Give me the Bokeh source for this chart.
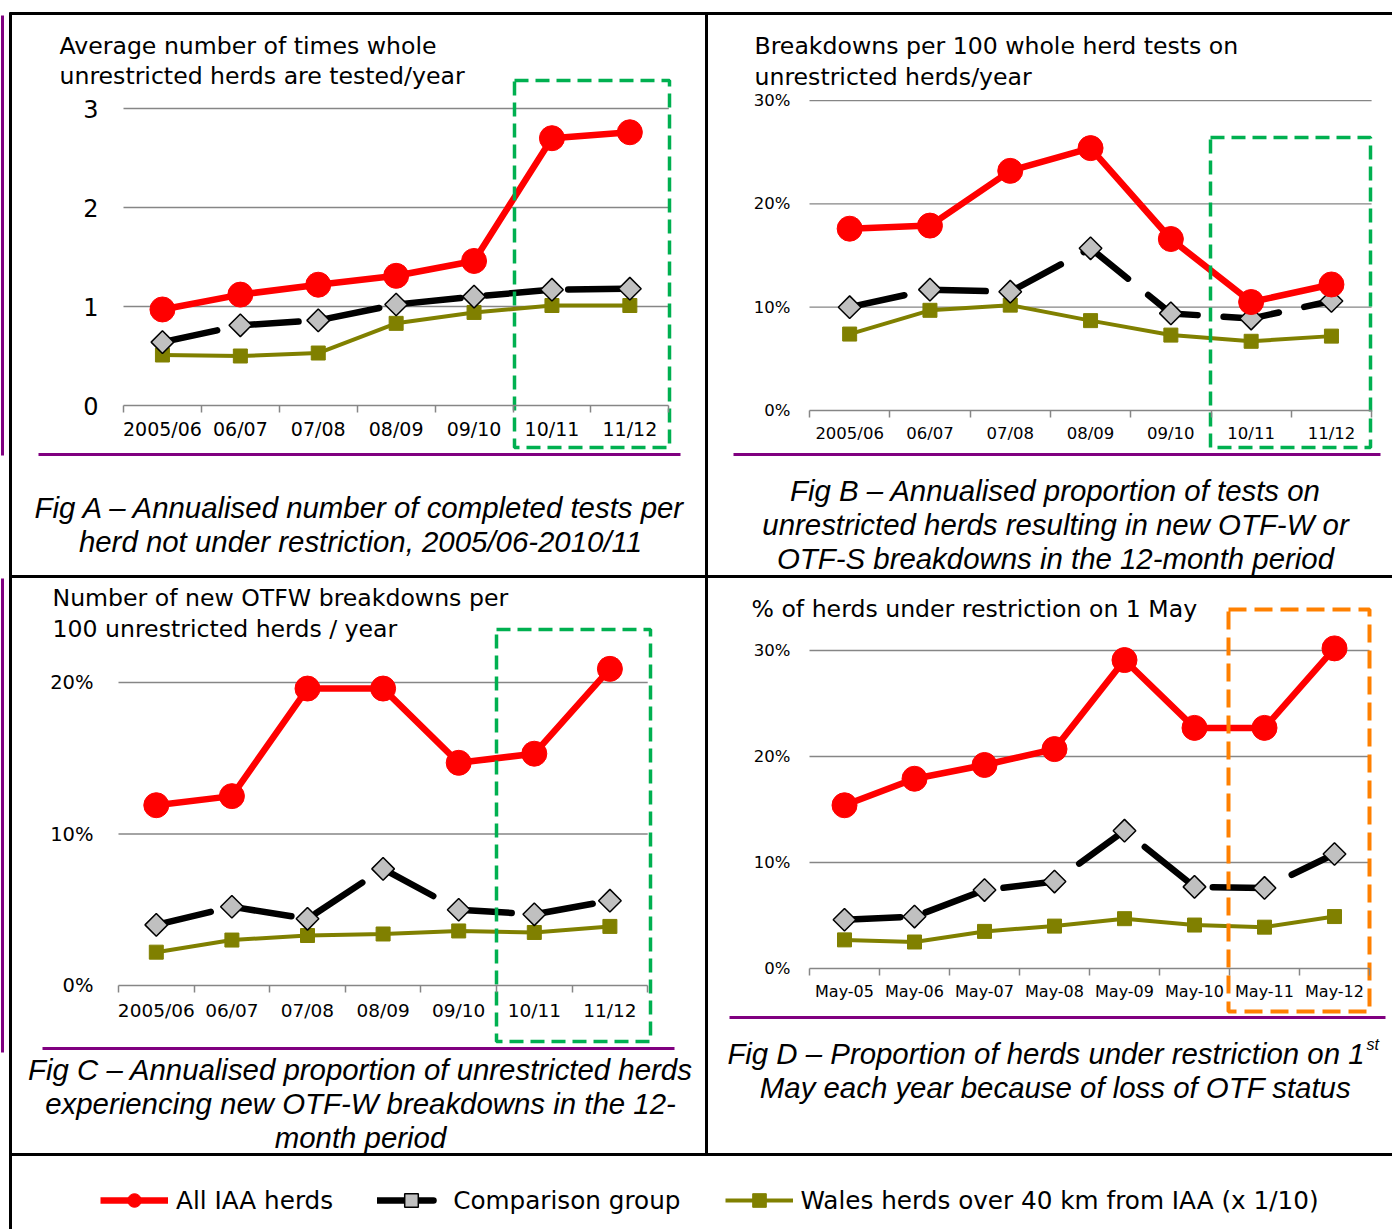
import numpy as np
from bokeh.plotting import figure
from bokeh.models import (Range1d, LinearAxis, FixedTicker, ColumnDataSource,
                          Legend, LegendItem, PrintfTickFormatter, BasicTickFormatter)
from bokeh.core.properties import value
from bokeh.embed import file_html
from bokeh.resources import INLINE

W, H = 1392, 1229

# ---------------------------------------------------------------- data
years = ["2005/06", "06/07", "07/08", "08/09", "09/10", "10/11", "11/12"]
mays = ["May-05", "May-06", "May-07", "May-08", "May-09", "May-10", "May-11", "May-12"]

series_names = ["All IAA herds", "Comparison group",
                "Wales herds over 40 km from IAA (x 1/10)"]

# Fig A: average number of whole-herd tests per unrestricted herd per year
a_iaa = [0.97, 1.12, 1.22, 1.31, 1.46, 2.70, 2.76]
a_comparison = [0.64, 0.81, 0.86, 1.02, 1.10, 1.17, 1.18]
a_wales = [0.51, 0.50, 0.53, 0.83, 0.94, 1.01, 1.01]
a_yticks = [0, 1, 2, 3]

# Fig B: breakdowns per 100 whole-herd tests (%)
b_iaa = [17.6, 17.9, 23.2, 25.4, 16.6, 10.5, 12.2]
b_comparison = [10.0, 11.7, 11.5, 15.7, 9.4, 8.9, 10.6]
b_wales = [7.4, 9.7, 10.2, 8.7, 7.3, 6.7, 7.2]
b_yticks = [0, 10, 20, 30]

# Fig C: new OTF-W breakdowns per 100 unrestricted herds (%)
c_iaa = [11.9, 12.5, 19.6, 19.6, 14.7, 15.3, 20.9]
c_comparison = [4.0, 5.2, 4.4, 7.7, 5.0, 4.7, 5.6]
c_wales = [2.2, 3.0, 3.3, 3.4, 3.6, 3.5, 3.9]
c_yticks = [0, 10, 20]

# Fig D: herds under restriction on 1 May (%)
d_iaa = [15.4, 17.9, 19.2, 20.7, 29.1, 22.7, 22.7, 30.2]
d_comparison = [4.6, 4.9, 7.4, 8.2, 13.0, 7.7, 7.6, 10.8]
d_wales = [2.7, 2.5, 3.5, 4.0, 4.7, 4.1, 3.9, 4.9]
d_yticks = [0, 10, 20, 30]

# ---------------------------------------------------------------- style
RED = "#FF0000"
OLIVE = "#808000"
DIAMOND_FILL = "#C0C0C0"
GRID = "#868686"
PURPLE = "#800080"
GREEN = "#00B050"
ORANGE = "#FF8000"
CHART_FONT = "DejaVu Sans"
CAPTION_FONT = "Liberation Sans"
TITLE_SIZE = 23.6
CAPTION_SIZE = 29.4

# One page-sized canvas; the main ranges are page pixels (y downwards),
# each panel gets its own pair of extra ranges.
p = figure(width=W, height=H, x_range=Range1d(0, W), y_range=Range1d(H, 0),
           output_backend="svg", toolbar_location=None, min_border=0,
           x_axis_type=None, y_axis_type=None)
p.outline_line_color = None
p.background_fill_color = "white"
p.border_fill_color = "white"


def page_text(xs, ys, texts, size, font=CHART_FONT, style="normal",
              align="left", baseline="middle"):
    src = ColumnDataSource(dict(x=xs, y=ys, t=texts))
    p.text(x="x", y="y", text="t", source=src, text_font=value(font),
           text_font_size=value(f"{size}px"), text_font_style=style,
           text_align=align, text_baseline=baseline, text_color="black")


def add_panel(key, cats, iaa, comp, wales, left, cell, base, unit_px, yticks,
              fmt, ylab_size, ylab_gap, xlab_size, xlab_gap):
    n = len(cats)
    xr, yr = "x" + key, "y" + key
    p.extra_x_ranges = {**p.extra_x_ranges,
                        xr: Range1d(-left / cell, (W - left) / cell)}
    p.extra_y_ranges = {**p.extra_y_ranges,
                        yr: Range1d((base - H) / unit_px, base / unit_px)}
    on = dict(x_range_name=xr, y_range_name=yr)
    xs = [i + 0.5 for i in range(n)]

    # horizontal gridlines
    grid = [t for t in yticks if t > 0]
    p.segment(x0=[0] * len(grid), x1=[n] * len(grid), y0=grid, y1=grid,
              line_color=GRID, line_width=1.3, **on)

    # category axis: boundary ticks + centred labels
    tick_axis = LinearAxis(**on, fixed_location=0, bounds=(0, n),
                           ticker=FixedTicker(ticks=list(range(n + 1))),
                           axis_line_color=GRID, axis_line_width=1.5,
                           major_tick_line_color=GRID, major_tick_line_width=1.5,
                           major_tick_in=0, major_tick_out=7,
                           minor_tick_line_color=None,
                           major_label_text_color=None)
    label_axis = LinearAxis(**on, fixed_location=0, bounds=(0, n),
                            ticker=FixedTicker(ticks=xs),
                            major_label_overrides={x: c for x, c in zip(xs, cats)},
                            axis_line_color=None, major_tick_line_color=None,
                            major_tick_in=0, major_tick_out=0,
                            minor_tick_line_color=None, minor_tick_out=0,
                            major_label_standoff=xlab_gap,
                            major_label_text_font=CHART_FONT,
                            major_label_text_font_size=f"{xlab_size}px",
                            major_label_text_color="black")
    y_axis = LinearAxis(**on, fixed_location=0,
                        bounds=(min(yticks), max(yticks)),
                        ticker=FixedTicker(ticks=yticks), formatter=fmt,
                        axis_line_color=None, major_tick_line_color=None,
                        major_tick_in=0, major_tick_out=0,
                        minor_tick_line_color=None, minor_tick_out=0,
                        major_label_standoff=ylab_gap,
                        major_label_text_font=CHART_FONT,
                        major_label_text_font_size=f"{ylab_size}px",
                        major_label_text_color="black")
    p.add_layout(tick_axis, "below")
    p.add_layout(label_axis, "below")
    p.add_layout(y_axis, "left")

    wl = p.line(xs, wales, line_color=OLIVE, line_width=4, **on)
    wm = p.scatter(xs, wales, marker="square", size=14, fill_color=OLIVE,
                   line_color=OLIVE, **on)
    cl = p.line(xs, comp, line_color="black", line_width=6.5,
                line_dash="56 26", line_cap="round", **on)
    cm = p.scatter(xs, comp, marker="square", angle=np.pi / 4, size=16,
                   fill_color=DIAMOND_FILL, line_color="black", line_width=1.5,
                   **on)
    il = p.line(xs, iaa, line_color=RED, line_width=6.5, **on)
    im = p.scatter(xs, iaa, marker="circle", size=25, fill_color=RED,
                   line_color=RED, **on)
    return [[il, im], [cl, cm], [wl, wm]]


pct = PrintfTickFormatter(format="%d%%")

rA = add_panel("A", years, a_iaa, a_comparison, a_wales, left=123, cell=77.9,
               base=405, unit_px=99.0, yticks=a_yticks,
               fmt=BasicTickFormatter(), ylab_size=24, ylab_gap=25,
               xlab_size=19, xlab_gap=12)
add_panel("B", years, b_iaa, b_comparison, b_wales, left=809, cell=80.3,
          base=410, unit_px=10.33, yticks=b_yticks, fmt=pct,
          ylab_size=16.5, ylab_gap=19, xlab_size=16.5, xlab_gap=13)
add_panel("C", years, c_iaa, c_comparison, c_wales, left=118, cell=75.6,
          base=985, unit_px=15.15, yticks=c_yticks, fmt=pct,
          ylab_size=19.5, ylab_gap=25, xlab_size=18.5, xlab_gap=14)
add_panel("D", mays, d_iaa, d_comparison, d_wales, left=809, cell=70.0,
          base=968, unit_px=10.6, yticks=d_yticks, fmt=pct,
          ylab_size=16.5, ylab_gap=19, xlab_size=16, xlab_gap=13)

# highlighted recent years (page pixels: left, top, right, bottom)
boxes = [(514, 80, 669, 447, GREEN), (1210, 137, 1370, 447, GREEN),
         (496, 629, 650, 1041, GREEN), (1228, 609, 1369, 1011, ORANGE)]
for l, t, r, b, col in boxes:
    p.quad(left=l, right=r, top=t, bottom=b, fill_color=None, line_color=col,
           line_width=4 if col == ORANGE else 3.5,
           line_dash="18 8" if col == ORANGE else "14 7")

# ---------------------------------------------------------------- panel titles
page_text([59, 59], [45, 75], ["Average number of times whole",
                               "unrestricted herds are tested/year"], TITLE_SIZE)
page_text([754, 754], [45, 76], ["Breakdowns per 100 whole herd tests on",
                                 "unrestricted herds/year"], TITLE_SIZE)
page_text([52, 52], [597, 628], ["Number of new OTFW breakdowns per",
                                 "100 unrestricted herds / year"], TITLE_SIZE)
page_text([751], [608], ["% of herds under restriction on 1 May"], TITLE_SIZE)

# ---------------------------------------------------------------- captions
page_text([360, 360], [507, 541],
          ["Fig A \u2013 Annualised number of completed tests per",
           "herd not under restriction, 2005/06-2010/11"],
          CAPTION_SIZE, font=CAPTION_FONT, style="italic", align="center")
page_text([1055, 1055, 1055], [490, 524, 558],
          ["Fig B \u2013 Annualised proportion of tests on",
           "unrestricted herds resulting in new OTF-W or",
           "OTF-S breakdowns in the 12-month period"],
          CAPTION_SIZE, font=CAPTION_FONT, style="italic", align="center")
page_text([360, 360, 360], [1069, 1103, 1137],
          ["Fig C \u2013 Annualised proportion of unrestricted herds",
           "experiencing new OTF-W breakdowns in the 12-",
           "month period"],
          CAPTION_SIZE, font=CAPTION_FONT, style="italic", align="center")
page_text([1364], [1053],
          ["Fig D \u2013 Proportion of herds under restriction on 1"],
          CAPTION_SIZE, font=CAPTION_FONT, style="italic", align="right")
page_text([1366], [1044], ["st"], 16, font=CAPTION_FONT, style="italic")
page_text([1055], [1087], ["May each year because of loss of OTF status"],
          CAPTION_SIZE, font=CAPTION_FONT, style="italic", align="center")

# ---------------------------------------------------------------- table rules
purple = dict(x0=[38, 733, 42, 729, 2, 2], x1=[680, 1380, 674, 1385, 2, 2],
              y0=[454, 454, 1048, 1017, 15, 578], y1=[454, 454, 1048, 1017, 455, 1052])
p.segment(**purple, line_color=PURPLE, line_width=3)
black = dict(x0=[9, 10, 706, 9, 9], x1=[W, 10, 706, W, W],
             y0=[13, 12, 12, 576, 1154], y1=[13, H, 1154, 576, 1154])
p.segment(**black, line_color="black", line_width=3)

# ---------------------------------------------------------------- legend
legend = Legend(items=[LegendItem(label=value(name), renderers=rs)
                       for name, rs in zip(series_names, rA)],
                orientation="horizontal", location=(100, 12),
                glyph_width=68, glyph_height=34, label_standoff=8, spacing=44,
                padding=0, margin=0, border_line_color=None,
                background_fill_alpha=0, label_text_font=CHART_FONT,
                label_text_font_size="24.7px", label_text_color="black")
p.add_layout(legend)

open("out.html", "w").write(file_html(p, INLINE))
